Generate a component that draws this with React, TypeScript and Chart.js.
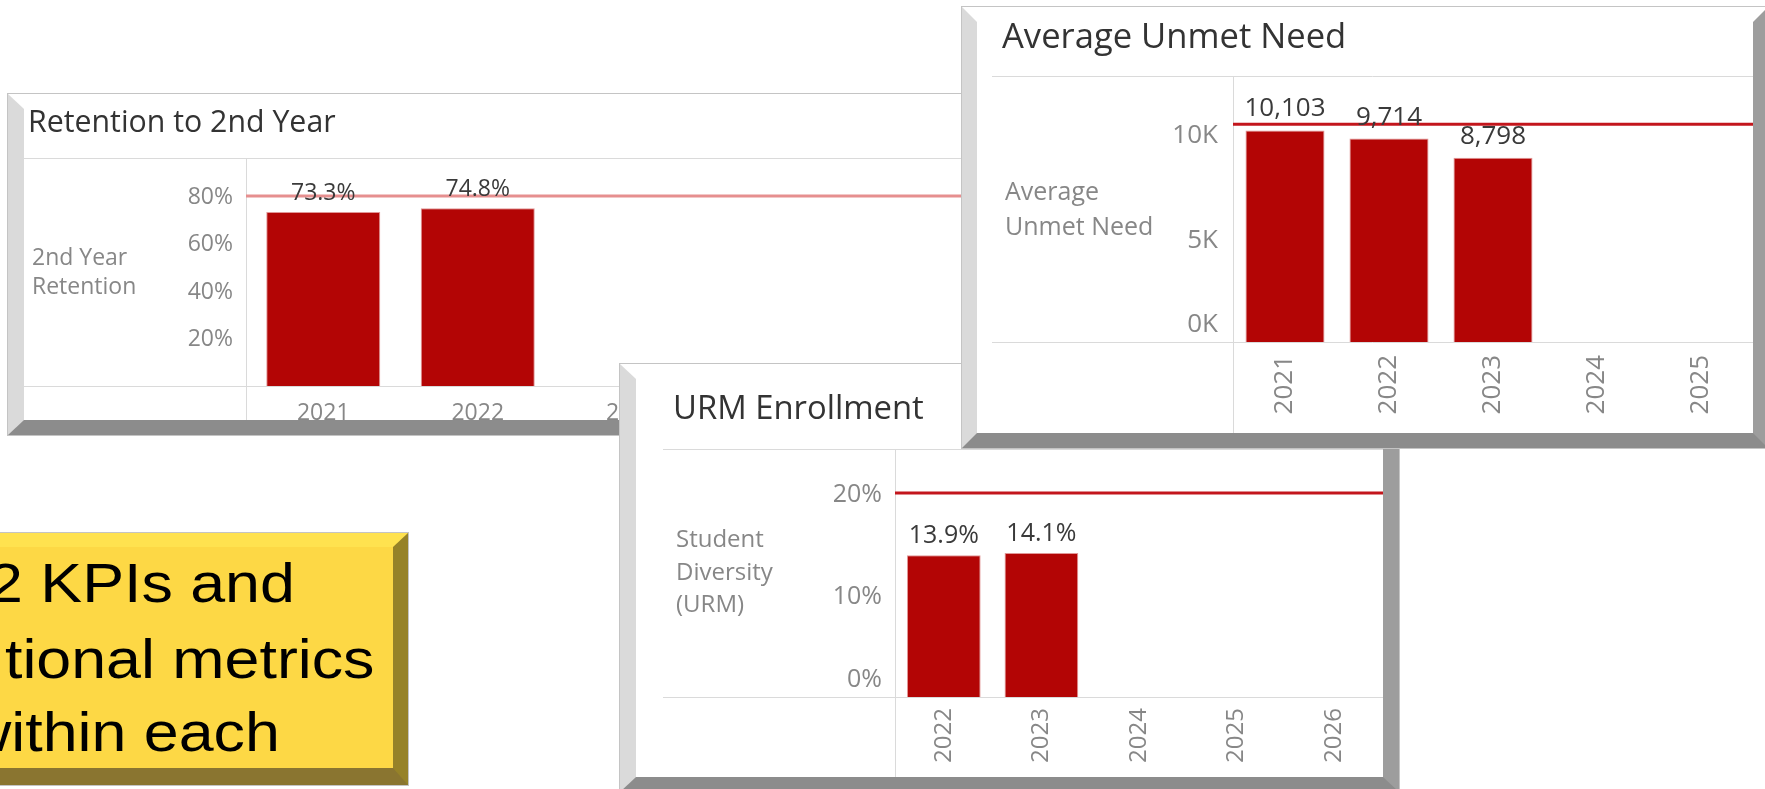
import React, { useEffect, useRef } from "react";
import { Chart, registerables } from "chart.js";

Chart.register(...registerables);

const FONT = "'Open Sans', 'Noto Sans', 'DejaVu Sans', sans-serif";

// ---- Retention to 2nd Year ----
const retentionYears = ["2021", "2022", "2023", "2024", "2025"];
const retentionValues: (number | null)[] = [73.3, 74.8, null, null, null];
const retentionTarget = 80;
const retentionTicks = [0, 20, 40, 60, 80];
const retentionAxisMax = 96;

// ---- Average Unmet Need ----
const unmetYears = ["2021", "2022", "2023", "2024", "2025"];
const unmetValues: (number | null)[] = [10103, 9714, 8798, null, null];
const unmetTarget = 10400;
const unmetTicks = [0, 5000, 10000];
const unmetAxisMax = 12700;

// ---- URM Enrollment ----
const urmYears = ["2022", "2023", "2024", "2025", "2026"];
const urmValues: (number | null)[] = [13.9, 14.1, null, null, null];
const urmTarget = 20;
const urmTicks = [0, 10, 20];
const urmAxisMax = 24.3;

// ---- Callout text (visible part) ----
const calloutLines = ["2 KPIs and", "tional metrics", "within each"];

const GRID = "#dadada";
const AXIS_COLOR = "#878787";
const TITLE_COLOR = "#333333";
const VALUE_COLOR = "#3a3a3a";
const BAR_COLOR = "#b30505";

type Spec = {
  w: number; h: number;
  title: string; titleX: number; titleY: number; titleSize: number;
  yTitle: string[]; yTitleX: number; yTitleYs: number[]; yTitleSize: number;
  dividerY: number; dividerX0: number; plotLeft: number; plotBottom: number; padRight: number;
  labels: string[]; values: (number | null)[]; target: number; ticks: number[]; yMax: number;
  tickFmt: (v: number) => string; valueFmt: (v: number) => string;
  tickSize: number; tickPad: number; tickOffset: number; zeroShift: number; showZero: boolean;
  xSize: number; xPad: number; xRot: number;
  valueSize: number; valueGap: number;
  barPct: number; refColor: string; refWidth: number;
};

function makeConfig(s: Spec): any {
  const decor = {
    id: "decor",
    beforeDatasetsDraw(chart: any) {
      const { ctx, chartArea, scales } = chart;
      ctx.save();
      ctx.strokeStyle = GRID;
      ctx.lineWidth = 1;
      const t = Math.round(chartArea.top) + 0.5;
      const b = Math.round(chartArea.bottom) + 0.5;
      const l = Math.round(chartArea.left) + 0.5;
      ctx.beginPath();
      ctx.moveTo(s.dividerX0, t); ctx.lineTo(chart.width, t);
      ctx.moveTo(s.dividerX0, b); ctx.lineTo(chart.width, b);
      ctx.moveTo(l, t); ctx.lineTo(l, chart.height);
      ctx.stroke();
      const y = scales.y.getPixelForValue(s.target);
      ctx.strokeStyle = s.refColor;
      ctx.lineWidth = s.refWidth;
      ctx.beginPath();
      ctx.moveTo(chartArea.left, y);
      ctx.lineTo(chartArea.right, y);
      ctx.stroke();
      ctx.restore();
    },
    afterDatasetsDraw(chart: any) {
      const { ctx } = chart;
      const meta = chart.getDatasetMeta(0);
      ctx.save();
      ctx.fillStyle = VALUE_COLOR;
      ctx.font = `${s.valueSize}px ${FONT}`;
      ctx.textAlign = "center";
      ctx.textBaseline = "alphabetic";
      meta.data.forEach((el: any, i: number) => {
        const v = s.values[i];
        if (v == null) return;
        ctx.fillText(s.valueFmt(v), el.x, el.y - s.valueGap);
      });
      ctx.textAlign = "left";
      ctx.fillStyle = TITLE_COLOR;
      ctx.font = `${s.titleSize}px ${FONT}`;
      ctx.fillText(s.title, s.titleX, s.titleY);
      ctx.fillStyle = AXIS_COLOR;
      ctx.font = `${s.yTitleSize}px ${FONT}`;
      ctx.textBaseline = "middle";
      s.yTitle.forEach((line, i) => ctx.fillText(line, s.yTitleX, s.yTitleYs[i]));
      ctx.restore();
    },
  };

  return {
    type: "bar",
    data: {
      labels: s.labels,
      datasets: [
        {
          data: s.values,
          backgroundColor: BAR_COLOR,
          borderColor: "rgba(222,140,140,0.9)",
          borderWidth: 1,
          barPercentage: s.barPct,
          categoryPercentage: 1,
        },
      ],
    },
    options: {
      animation: false,
      responsive: false,
      devicePixelRatio: 1,
      layout: { padding: { top: s.dividerY, left: 0, right: s.padRight, bottom: 0 } },
      plugins: { legend: { display: false }, tooltip: { enabled: false }, title: { display: false } },
      scales: {
        x: {
          type: "category",
          offset: true,
          grid: { display: false, drawTicks: false },
          border: { display: false },
          afterFit: (sc: any) => {
            sc.height = s.h - s.plotBottom;
            sc.paddingLeft = 0;
            sc.paddingRight = 0;
          },
          ticks: {
            autoSkip: false,
            maxRotation: s.xRot,
            minRotation: s.xRot,
            padding: s.xPad,
            color: AXIS_COLOR,
            font: { family: FONT, size: s.xSize },
          },
        },
        y: {
          min: 0,
          max: s.yMax,
          grid: { display: false, drawTicks: false },
          border: { display: false },
          afterBuildTicks: (sc: any) => {
            sc.ticks = s.ticks.map((v) => ({ value: v }));
          },
          afterFit: (sc: any) => {
            sc.width = s.plotLeft;
            sc.paddingTop = 0;
            sc.paddingBottom = 0;
          },
          ticks: {
            padding: s.tickPad,
            labelOffset: s.tickOffset,
            color: AXIS_COLOR,
            font: (ctx: any) => ({
              family: FONT,
              size: s.tickSize,
              lineHeight:
                ctx.tick && ctx.tick.value === 0 && s.zeroShift > 0
                  ? (2 * s.zeroShift) / s.tickSize
                  : 1.2,
            }),
            callback: (value: any) => {
              const v = Number(value);
              if (v === 0) {
                if (!s.showZero) return "";
                return s.zeroShift > 0 ? [s.tickFmt(0), ""] : s.tickFmt(0);
              }
              return s.tickFmt(v);
            },
          },
        },
      },
    },
    plugins: [decor],
  };
}

function PanelChart({ spec }: { spec: Spec }) {
  const ref = useRef<HTMLCanvasElement>(null);
  useEffect(() => {
    const chart = new Chart(ref.current as HTMLCanvasElement, makeConfig(spec));
    return () => chart.destroy();
  }, []);
  return (
    <canvas
      ref={ref}
      width={spec.w}
      height={spec.h}
      style={{ position: "absolute", left: 0, top: 0, width: spec.w, height: spec.h }}
    />
  );
}

type FrameProps = {
  left: number; top: number; w: number; h: number;
  bw: [number, number, number, number]; // top right bottom left
  colors: [string, string, string, string];
  bg: string; z: number; children?: any;
};

function Frame({ left, top, w, h, bw, colors, bg, z, children }: FrameProps) {
  return (
    <div
      style={{
        position: "absolute",
        left,
        top,
        width: w + bw[1] + bw[3],
        height: h + bw[0] + bw[2],
        boxSizing: "border-box",
        borderStyle: "solid",
        borderWidth: `${bw[0]}px ${bw[1]}px ${bw[2]}px ${bw[3]}px`,
        borderColor: colors.join(" "),
        background: bg,
        boxShadow: "0 0 0 1px #c4c4c4",
        zIndex: z,
        overflow: "hidden",
      }}
    >
      {children}
    </div>
  );
}

const GRAY_BEVEL: [string, string, string, string] = ["#ffffff", "#9d9d9d", "#8c8c8c", "#dadada"];

const retentionSpec: Spec = {
  w: 1000, h: 311,
  title: "Retention to 2nd Year", titleX: 4, titleY: 23, titleSize: 30.3,
  yTitle: ["2nd Year", "Retention"], yTitleX: 8, yTitleYs: [149, 178], yTitleSize: 23,
  dividerY: 49, dividerX0: 0, plotLeft: 222, plotBottom: 277, padRight: 5.5,
  labels: retentionYears, values: retentionValues, target: retentionTarget,
  ticks: retentionTicks, yMax: retentionAxisMax,
  tickFmt: (v) => `${v}%`, valueFmt: (v) => `${v.toFixed(1)}%`,
  tickSize: 23, tickPad: 13, tickOffset: 1, zeroShift: 0, showZero: false,
  xSize: 23, xPad: 14, xRot: 0, valueSize: 23, valueGap: 12,
  barPct: 0.738, refColor: "#e68f8f", refWidth: 3,
};

const unmetSpec: Spec = {
  w: 776, h: 411,
  title: "Average Unmet Need", titleX: 25, titleY: 26, titleSize: 34.6,
  yTitle: ["Average", "Unmet Need"], yTitleX: 28, yTitleYs: [171, 206], yTitleSize: 25,
  dividerY: 54, dividerX0: 15, plotLeft: 256, plotBottom: 320, padRight: 0,
  labels: unmetYears, values: unmetValues, target: unmetTarget,
  ticks: unmetTicks, yMax: unmetAxisMax,
  tickFmt: (v) => `${v / 1000}K`, valueFmt: (v) => v.toLocaleString("en-US"),
  tickSize: 26, tickPad: 15, tickOffset: 3, zeroShift: 20, showZero: true,
  xSize: 26, xPad: 13, xRot: 90, valueSize: 26, valueGap: 14,
  barPct: 0.76, refColor: "#c3161c", refWidth: 3,
};

const urmSpec: Spec = {
  w: 747, h: 398,
  title: "URM Enrollment", titleX: 37, titleY: 40, titleSize: 32.8,
  yTitle: ["Student", "Diversity", "(URM)"], yTitleX: 40, yTitleYs: [161, 194, 226], yTitleSize: 24,
  dividerY: 70, dividerX0: 27, plotLeft: 259, plotBottom: 318, padRight: 0,
  labels: urmYears, values: urmValues, target: urmTarget,
  ticks: urmTicks, yMax: urmAxisMax,
  tickFmt: (v) => `${v}%`, valueFmt: (v) => `${v.toFixed(1)}%`,
  tickSize: 25, tickPad: 13, tickOffset: 2, zeroShift: 19, showZero: true,
  xSize: 24, xPad: 11, xRot: 90, valueSize: 25, valueGap: 12,
  barPct: 0.755, refColor: "#c3161c", refWidth: 3,
};

const calloutLeft = [-12, 5, -34];
const calloutBaseline = [602, 678, 751];

export default function App() {
  useEffect(() => {
    document.body.style.margin = "0";
  }, []);
  return (
    <div
      style={{
        position: "absolute",
        left: 0,
        top: 0,
        width: 1765,
        height: 789,
        overflow: "hidden",
        background: "#ffffff",
      }}
    >
      <Frame left={8} top={94} w={1000} h={311} bw={[15, 15, 15, 16]} colors={GRAY_BEVEL} bg="#fff" z={1}>
        <PanelChart spec={retentionSpec} />
      </Frame>
      <Frame left={620} top={364} w={747} h={398} bw={[15, 16, 15, 16]} colors={GRAY_BEVEL} bg="#fff" z={2}>
        <PanelChart spec={urmSpec} />
      </Frame>
      <Frame left={962} top={7} w={776} h={411} bw={[15, 15, 15, 15]} colors={GRAY_BEVEL} bg="#fff" z={3}>
        <PanelChart spec={unmetSpec} />
      </Frame>
      <Frame
        left={-40}
        top={533}
        w={448 - 29}
        h={252 - 31}
        bw={[14, 15, 17, 14]}
        colors={["#ffe24f", "#968228", "#8a7530", "#fee04a"]}
        bg="#fdd845"
        z={1}
      />
      {calloutLines.map((line, i) => (
        <div
          key={i}
          style={{
            position: "absolute",
            left: calloutLeft[i],
            top: calloutBaseline[i] - 47.4,
            fontFamily: "'Liberation Sans', Arial, sans-serif",
            fontSize: 56,
            lineHeight: "56px",
            color: "#000",
            whiteSpace: "nowrap",
            transform: "scaleX(1.12)",
            transformOrigin: "left top",
            zIndex: 4,
          }}
        >
          {line}
        </div>
      ))}
    </div>
  );
}
